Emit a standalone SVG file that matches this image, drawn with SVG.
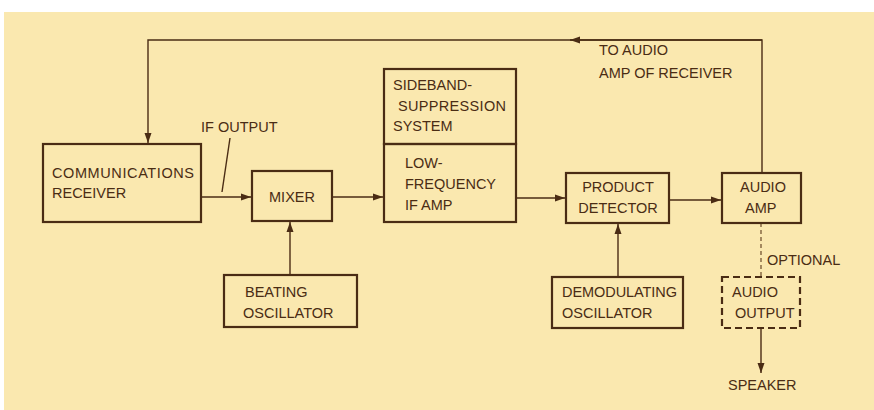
<svg xmlns="http://www.w3.org/2000/svg" width="874" height="410" viewBox="0 0 874 410">
<style>
.box{fill:none;stroke:#4a2c14;stroke-width:2.2}
.dbox{fill:none;stroke:#4a2c14;stroke-width:2.2;stroke-dasharray:7 4}
.ln{fill:none;stroke:#4a2c14;stroke-width:1.4}
.dl{fill:none;stroke:#6b4a2a;stroke-width:1.2;stroke-dasharray:4 3}
text{font-family:"Liberation Sans",Arial,sans-serif;font-size:14.5px;fill:#4a2c14}
.c{text-anchor:middle}
</style>
<defs>
<marker id="ar" viewBox="0 0 10 8" refX="10" refY="4" markerWidth="10" markerHeight="8" markerUnits="userSpaceOnUse" orient="auto">
<path d="M0,0.5 L10,4 L0,7.5 Z" fill="#4a2c14"/>
</marker>
</defs>
<rect x="4" y="12" width="870" height="398" fill="#fae8af"/>
<g id="connectors">
<path class="ln" d="M762,173 V40 H148 V143" marker-end="url(#ar)"/>
<path class="ln" d="M762,40 H570" marker-end="url(#ar)"/>
<path class="ln" d="M201,197 H251" marker-end="url(#ar)"/>
<path class="ln" d="M332,197 H383" marker-end="url(#ar)"/>
<path class="ln" d="M516,198 H565" marker-end="url(#ar)"/>
<path class="ln" d="M669,200 H721" marker-end="url(#ar)"/>
<path class="ln" d="M290,275 V222" marker-end="url(#ar)"/>
<path class="ln" d="M618,277 V224" marker-end="url(#ar)"/>
<path class="dl" d="M761,223 V277"/>
<path class="ln" d="M761,328 V373" marker-end="url(#ar)"/>
<path class="ln" d="M230,138 L222,192"/>
</g>
<g id="labels">
<text x="201" y="132">IF OUTPUT</text>
<text x="599" y="55">TO AUDIO</text>
<text x="599" y="78">AMP OF RECEIVER</text>
<text x="767" y="265">OPTIONAL</text>
<text x="728" y="390">SPEAKER</text>
</g>
<g id="receiver">
<rect class="box" x="43" y="144" width="158" height="78"/>
<text x="52" y="178" textLength="142">COMMUNICATIONS</text>
<text x="52" y="198">RECEIVER</text>
</g>
<g id="mixer">
<rect class="box" x="252" y="171" width="80" height="50"/>
<text class="c" x="292" y="202">MIXER</text>
</g>
<g id="sideband">
<rect class="box" x="384" y="69" width="132" height="75"/>
<text x="393" y="90">SIDEBAND-</text>
<text x="398" y="111" textLength="108">SUPPRESSION</text>
<text x="393" y="131">SYSTEM</text>
</g>
<g id="lfamp">
<rect class="box" x="384" y="144" width="132" height="78"/>
<text x="405" y="168">LOW-</text>
<text x="405" y="189">FREQUENCY</text>
<text x="405" y="210">IF AMP</text>
</g>
<g id="detector">
<rect class="box" x="566" y="173" width="103" height="50"/>
<text class="c" x="618" y="192">PRODUCT</text>
<text class="c" x="618" y="213">DETECTOR</text>
</g>
<g id="audioamp">
<rect class="box" x="722" y="173" width="79" height="50"/>
<text x="740" y="192">AUDIO</text>
<text x="745" y="213">AMP</text>
</g>
<g id="beating">
<rect class="box" x="224" y="275" width="133" height="52"/>
<text x="245" y="297">BEATING</text>
<text x="243" y="318">OSCILLATOR</text>
</g>
<g id="demod">
<rect class="box" x="552" y="277" width="131" height="51"/>
<text x="562" y="297" textLength="115">DEMODULATING</text>
<text x="562" y="318">OSCILLATOR</text>
</g>
<g id="audioout">
<rect class="dbox" x="722" y="277" width="78" height="51"/>
<text x="732" y="297">AUDIO</text>
<text x="735" y="318">OUTPUT</text>
</g>
</svg>
